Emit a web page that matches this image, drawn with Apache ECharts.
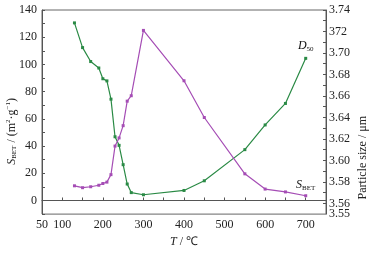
<!DOCTYPE html>
<html>
<head>
<meta charset="utf-8">
<script src="https://cdn.jsdelivr.net/npm/echarts@6/dist/echarts.min.js"></script>
<style>
  html, body { margin: 0; padding: 0; background: #fff; }
  #chart { width: 369px; height: 253px; }
</style>
</head>
<body>
<div id="chart"></div>
<script>
// temperature (°C)
var temps = [130, 150, 170, 190, 200, 210, 220, 230, 240, 250, 260, 270, 300, 400, 450, 550, 600, 650, 700];
// specific surface area S_BET (m2/g), left axis
var sbet = [10.8, 9.4, 10.1, 11.2, 12.5, 13.5, 19, 40, 46, 55, 73, 77, 125, 88, 61, 19.6, 8.4, 6.3, 3.5];
// particle size D50 (um), right axis
var d50 = [3.728, 3.705, 3.692, 3.686, 3.676, 3.674, 3.657, 3.622, 3.614, 3.596, 3.578, 3.570, 3.568, 3.572, 3.581, 3.610, 3.633, 3.653, 3.695];

var xLabels = [50, 100, 200, 300, 400, 500, 600, 700];
var leftLabels = [0, 20, 40, 60, 80, 100, 120, 140];
var rightLabels = [3.56, 3.58, 3.60, 3.62, 3.64, 3.66, 3.68, 3.70, 3.72, 3.74];
var rightMinLabel = [3.55];

var font = 'Liberation Serif';
var green = '#2a8a45';
var purple = '#a54db5';

function pairs(xs, ys, lastLabel) {
    var res = [];
    for (var i = 0; i < xs.length; i++) {
        var item = {value: [xs[i], ys[i]]};
        if (i === xs.length - 1) {
            item.label = lastLabel;
        }
        res.push(item);
    }
    return res;
}

var myChart = echarts.init(document.getElementById('chart'));

var option = {
    animation: false,
    textStyle: {fontFamily: font},
    grid: {
        left: 42, right: 43, top: 10, bottom: 31,
        show: true, borderColor: '#666', borderWidth: 1
    },
    xAxis: {
        type: 'value',
        min: 50, max: 750, interval: 50,
        name: '{i|T} / ℃',
        nameLocation: 'middle',
        nameGap: 21,
        nameTextStyle: {
            fontSize: 12, color: '#222', fontFamily: font,
            rich: {i: {fontStyle: 'italic', fontSize: 12, fontFamily: font, color: '#222'}}
        },
        axisLine: {lineStyle: {color: '#555'}},
        axisTick: {inside: true, length: 3, lineStyle: {color: '#555'}},
        axisLabel: {
            interval: 0, margin: 5, fontSize: 12, color: '#222', fontFamily: font,
            showMinLabel: true,
            formatter: function (v) {
                return xLabels.indexOf(v) >= 0 ? String(v) : '';
            }
        },
        splitLine: {show: false}
    },
    yAxis: [
        {
            type: 'value',
            min: -10, max: 140, interval: 10,
            axisLine: {show: true, lineStyle: {color: '#555'}},
            axisTick: {show: true, inside: true, length: 3, lineStyle: {color: '#555'}},
            axisLabel: {
                interval: 0, margin: 5, fontSize: 12, color: '#222', fontFamily: font,
                formatter: function (v) {
                    return leftLabels.indexOf(v) >= 0 ? String(v) : '';
                }
            },
            splitLine: {show: false}
        },
        {
            type: 'value',
            min: 3.55, max: 3.74, interval: 0.01,
            position: 'right',
            axisLine: {show: true, lineStyle: {color: '#555'}},
            axisTick: {show: true, inside: true, length: 3, lineStyle: {color: '#555'}},
            axisLabel: {
                interval: 0, margin: 3, fontSize: 12, color: '#222', fontFamily: font,
                showMinLabel: false, showMaxLabel: true,
                formatter: function (v) {
                    var k = Math.round(v * 100);
                    for (var i = 0; i < rightLabels.length; i++) {
                        if (Math.round(rightLabels[i] * 100) === k) {
                            // the source figure prints 3.72 as "372"
                            return k === 372 ? '372' : rightLabels[i].toFixed(2);
                        }
                    }
                    return '';
                }
            },
            splitLine: {show: false}
        },
        {
            // extra axis only for the crowded bottom label 3.55
            type: 'value',
            min: 3.55, max: 3.74,
            position: 'right',
            axisLine: {show: false},
            axisTick: {show: false},
            axisLabel: {
                customValues: rightMinLabel,
                margin: 3, fontSize: 12, color: '#222', fontFamily: font,
                verticalAlign: 'middle', lineHeight: 12, padding: [0, 0, 10, 0],
                formatter: function (v) { return v.toFixed(2); }
            },
            splitLine: {show: false}
        }
    ],
    graphic: [
        {
            type: 'text',
            left: 5, top: 98,
            rotation: Math.PI / 2,
            style: {
                text: '{i|S}{s|BET} / (m{p|2}·g{p|−1})',
                fontFamily: font, fontSize: 12, fill: '#222',
                align: 'center', verticalAlign: 'middle',
                rich: {
                    i: {fontStyle: 'italic', fontSize: 12, fontFamily: font, fill: '#222'},
                    s: {fontSize: 7, fontFamily: font, verticalAlign: 'bottom', padding: [6, 0, 0, 0], fill: '#222'},
                    p: {fontSize: 7, fontFamily: font, verticalAlign: 'top', padding: [0, 0, 6, 0], fill: '#222'}
                }
            }
        },
        {
            type: 'text',
            left: 357, top: 116,
            rotation: Math.PI / 2,
            style: {
                text: 'Particle size / μm',
                fontFamily: font, fontSize: 12, fill: '#222',
                align: 'center', verticalAlign: 'middle'
            }
        }
    ],
    series: [
        {
            name: 'D50',
            type: 'line',
            yAxisIndex: 1,
            data: pairs(temps, d50, {
                show: true, position: 'top', distance: 4,
                formatter: '{i|D}{s|50}',
                rich: {
                    i: {fontStyle: 'italic', fontSize: 12, fontFamily: font, color: '#111'},
                    s: {fontSize: 7, fontFamily: font, color: '#111', padding: [6, 0, 0, 0]}
                }
            }),
            symbol: 'rect',
            symbolSize: 3,
            lineStyle: {color: green, width: 1.2},
            itemStyle: {color: green}
        },
        {
            name: 'SBET',
            type: 'line',
            yAxisIndex: 0,
            data: pairs(temps, sbet, {
                show: true, position: 'top', distance: 3,
                formatter: '{i|S}{s|BET}',
                rich: {
                    i: {fontStyle: 'italic', fontSize: 12, fontFamily: font, color: '#111'},
                    s: {fontSize: 7, fontFamily: font, color: '#111', padding: [6, 0, 0, 0]}
                }
            }),
            symbol: 'rect',
            symbolSize: 3,
            lineStyle: {color: purple, width: 1.2},
            itemStyle: {color: purple}
        }
    ]
};

myChart.setOption(option);
</script>
</body>
</html>
